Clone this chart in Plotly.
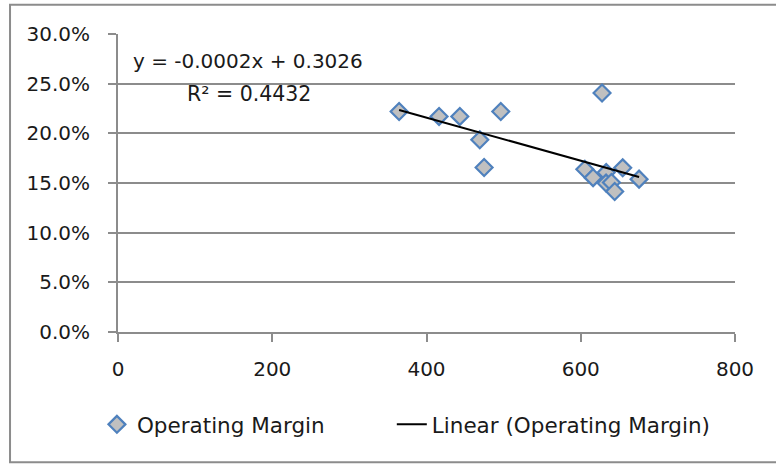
import numpy as np
import plotly.graph_objects as go

# Data
x_vals = [364.5, 416.3, 443.2, 496.3, 469.1, 474.7, 627.6, 605.3, 616.0,
          633.0, 654.4, 675.6, 632.8, 639.8, 644.0]
margin_vals = [0.222, 0.217, 0.217, 0.222, 0.1935, 0.1656, 0.2406, 0.1638, 0.1554,
               0.1605, 0.1653, 0.1539, 0.1499, 0.1505, 0.1414]
y_ticks = [0, 0.05, 0.10, 0.15, 0.20, 0.25, 0.30]
y_tick_labels = ["0.0%", "5.0%", "10.0%", "15.0%", "20.0%", "25.0%", "30.0%"]
x_ticks = [0, 200, 400, 600, 800]
eq_text = "y = -0.0002x + 0.3026"
r2_text = "R² = 0.4432"

FONT = "DejaVu Sans"
GRID = "#8c8c8c"
TXT = "#1a1a1a"

slope, intercept = np.polyfit(x_vals, margin_vals, 1)
fit_x = [min(x_vals), max(x_vals)]
fit_y = [slope * v + intercept for v in fit_x]

fig = go.Figure()
fig.add_trace(go.Scatter(
    x=x_vals, y=margin_vals, mode="markers", name="Operating Margin",
    marker=dict(symbol="diamond", size=13, color="#c0c0c0",
                line=dict(color="#4f81bd", width=2.2)),
    legend="legend",
))
fig.add_trace(go.Scatter(
    x=fit_x, y=fit_y, mode="lines", name="Linear (Operating Margin)",
    line=dict(color="black", width=2),
    legend="legend2",
))

legend_common = dict(orientation="h", xanchor="left", y=-0.31, yanchor="middle",
                     font=dict(size=21.5, family=FONT, color=TXT),
                     bgcolor="rgba(0,0,0,0)")

fig.update_layout(
    width=776, height=464,
    margin=dict(l=118, r=41, t=34, b=132),
    paper_bgcolor="white", plot_bgcolor="white",
    font=dict(family=FONT, size=20, color=TXT),
    showlegend=True,
    legend=dict(x=(97 - 118.1) / 617.2, **legend_common),
    legend2=dict(x=(392 - 118.1) / 617.2, **legend_common),
    xaxis=dict(range=[0, 800], tickvals=x_ticks, showgrid=False, zeroline=False,
               showline=True, linecolor=GRID, linewidth=2,
               ticks="outside", ticklen=8, tickwidth=2, tickcolor=GRID,
               ticklabelstandoff=10, fixedrange=True),
    yaxis=dict(range=[0, 0.30], tickvals=y_ticks, ticktext=y_tick_labels,
               showgrid=True, gridcolor=GRID, gridwidth=2, zeroline=False,
               showline=True, linecolor=GRID, linewidth=2,
               ticks="outside", ticklen=8, tickwidth=2, tickcolor=GRID,
               ticklabelstandoff=14, fixedrange=True),
    shapes=[dict(type="rect", xref="paper", yref="paper",
                 x0=-0.175, x1=1.08, y0=-0.4367, y1=1.0984,
                 line=dict(color="#8c8c8c", width=2), layer="below")],
    annotations=[
        dict(text=eq_text, xref="paper", yref="paper",
             x=(131 - 118.1) / 617.2, y=(332 - 61.7) / 297.7,
             xanchor="left", yanchor="middle", showarrow=False,
             font=dict(size=20, family=FONT, color=TXT)),
        dict(text=r2_text, xref="paper", yref="paper",
             x=(185 - 118.1) / 617.2, y=(332 - 94) / 297.7,
             xanchor="left", yanchor="middle", showarrow=False,
             font=dict(size=20.5, family=FONT, color=TXT)),
    ],
)

fig.write_html("out.html")
